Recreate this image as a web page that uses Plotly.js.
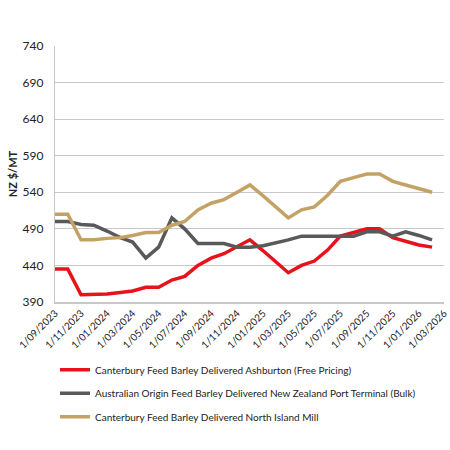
<!DOCTYPE html>
<html>
<head>
<meta charset="utf-8">
<script src="https://cdn.plot.ly/plotly-3.0.1.min.js"></script>
<style>html,body{margin:0;padding:0;background:#fff;}#chart{width:450px;height:450px;}</style>
</head>
<body>
<div id="chart"></div>
<script>
const months = ['2023-09-01','2023-10-01','2023-11-01','2023-12-01','2024-01-01','2024-02-01','2024-03-01','2024-04-01','2024-05-01','2024-06-01','2024-07-01','2024-08-01','2024-09-01','2024-10-01','2024-11-01','2024-12-01','2025-01-01','2025-02-01','2025-03-01','2025-04-01','2025-05-01','2025-06-01','2025-07-01','2025-08-01','2025-09-01','2025-10-01','2025-11-01','2025-12-01','2026-01-01','2026-02-01'];
const ashburton = [435,435,400,400,401,403,405,410,410,420,425,440,450,456,465,475,460,445,430,440,446,461,480,485,490,490,478,473,468,465];
const australian = [500,500,496,495,487,478,472,450,465,505,490,470,470,470,465,465,467,471,475,480,480,480,480,480,486,486,480,486,481,475];
const northIsland = [510,510,475,475,477,478,481,485,485,495,500,516,525,530,540,550,535,520,505,516,520,536,555,560,565,565,555,550,545,540];
const tickVals = ['2023-09-01','2023-11-01','2024-01-01','2024-03-01','2024-05-01','2024-07-01','2024-09-01','2024-11-01','2025-01-01','2025-03-01','2025-05-01','2025-07-01','2025-09-01','2025-11-01','2026-01-01','2026-03-01'];
const tickText = ['1/09/2023','1/11/2023','1/01/2024','1/03/2024','1/05/2024','1/07/2024','1/09/2024','1/11/2024','1/01/2025','1/03/2025','1/05/2025','1/07/2025','1/09/2025','1/11/2025','1/01/2026','1/03/2026'];
const yTicks = [390,440,490,540,590,640,690,740];
const names = ['Canterbury Feed Barley Delivered Ashburton (Free Pricing)','Australian Origin Feed Barley Delivered New Zealand Port Terminal (Bulk)','Canterbury Feed Barley Delivered North Island Mill'];

const colors = ['#e8121a','#595959','#c4a265'];
const series = [ashburton, australian, northIsland];
const traces = series.map((s,i)=>({
  x: months, y: s, type:'scatter', mode:'lines', name: names[i],
  legendgroup: 'g'+i,
  line:{color:colors[i], width:3.5}
}));

const layout = {
  width:450, height:450,
  margin:{l:55, r:6, t:46, b:148},
  paper_bgcolor:'#fff', plot_bgcolor:'#fff',
  font:{family:'Lato, "Open Sans", sans-serif', color:'#222'},
  showlegend:true,
  legend:{x:0.0, xanchor:'left', y:-0.208, yanchor:'top', orientation:'v',
    traceorder:'grouped', tracegroupgap:4.5, font:{size:10, color:'#222'}, itemwidth:30},
  xaxis:{type:'date', range:['2023-09-01','2026-03-01'], tickmode:'array', tickvals:tickVals, ticktext:tickText,
    tickangle:-45, tickfont:{size:10, color:'#222'}, showgrid:false, showline:true, linecolor:'#c8c8c8', linewidth:1.5, ticks:'', zeroline:false},
  yaxis:{range:[390,740], tickmode:'array', tickvals:yTicks, tickfont:{size:12, color:'#222'}, ticklabelstandoff:8,
    showgrid:true, gridcolor:'#c8c8c8', gridwidth:1.2, showline:true, linecolor:'#c8c8c8', linewidth:1.2, ticks:'', zeroline:false,
    title:{text:'<b>NZ $/MT</b>', font:{size:11, color:'#222'}, standoff:2}}
};
Plotly.newPlot('chart', traces, layout, {displayModeBar:false, staticPlot:true});
</script>
</body>
</html>
